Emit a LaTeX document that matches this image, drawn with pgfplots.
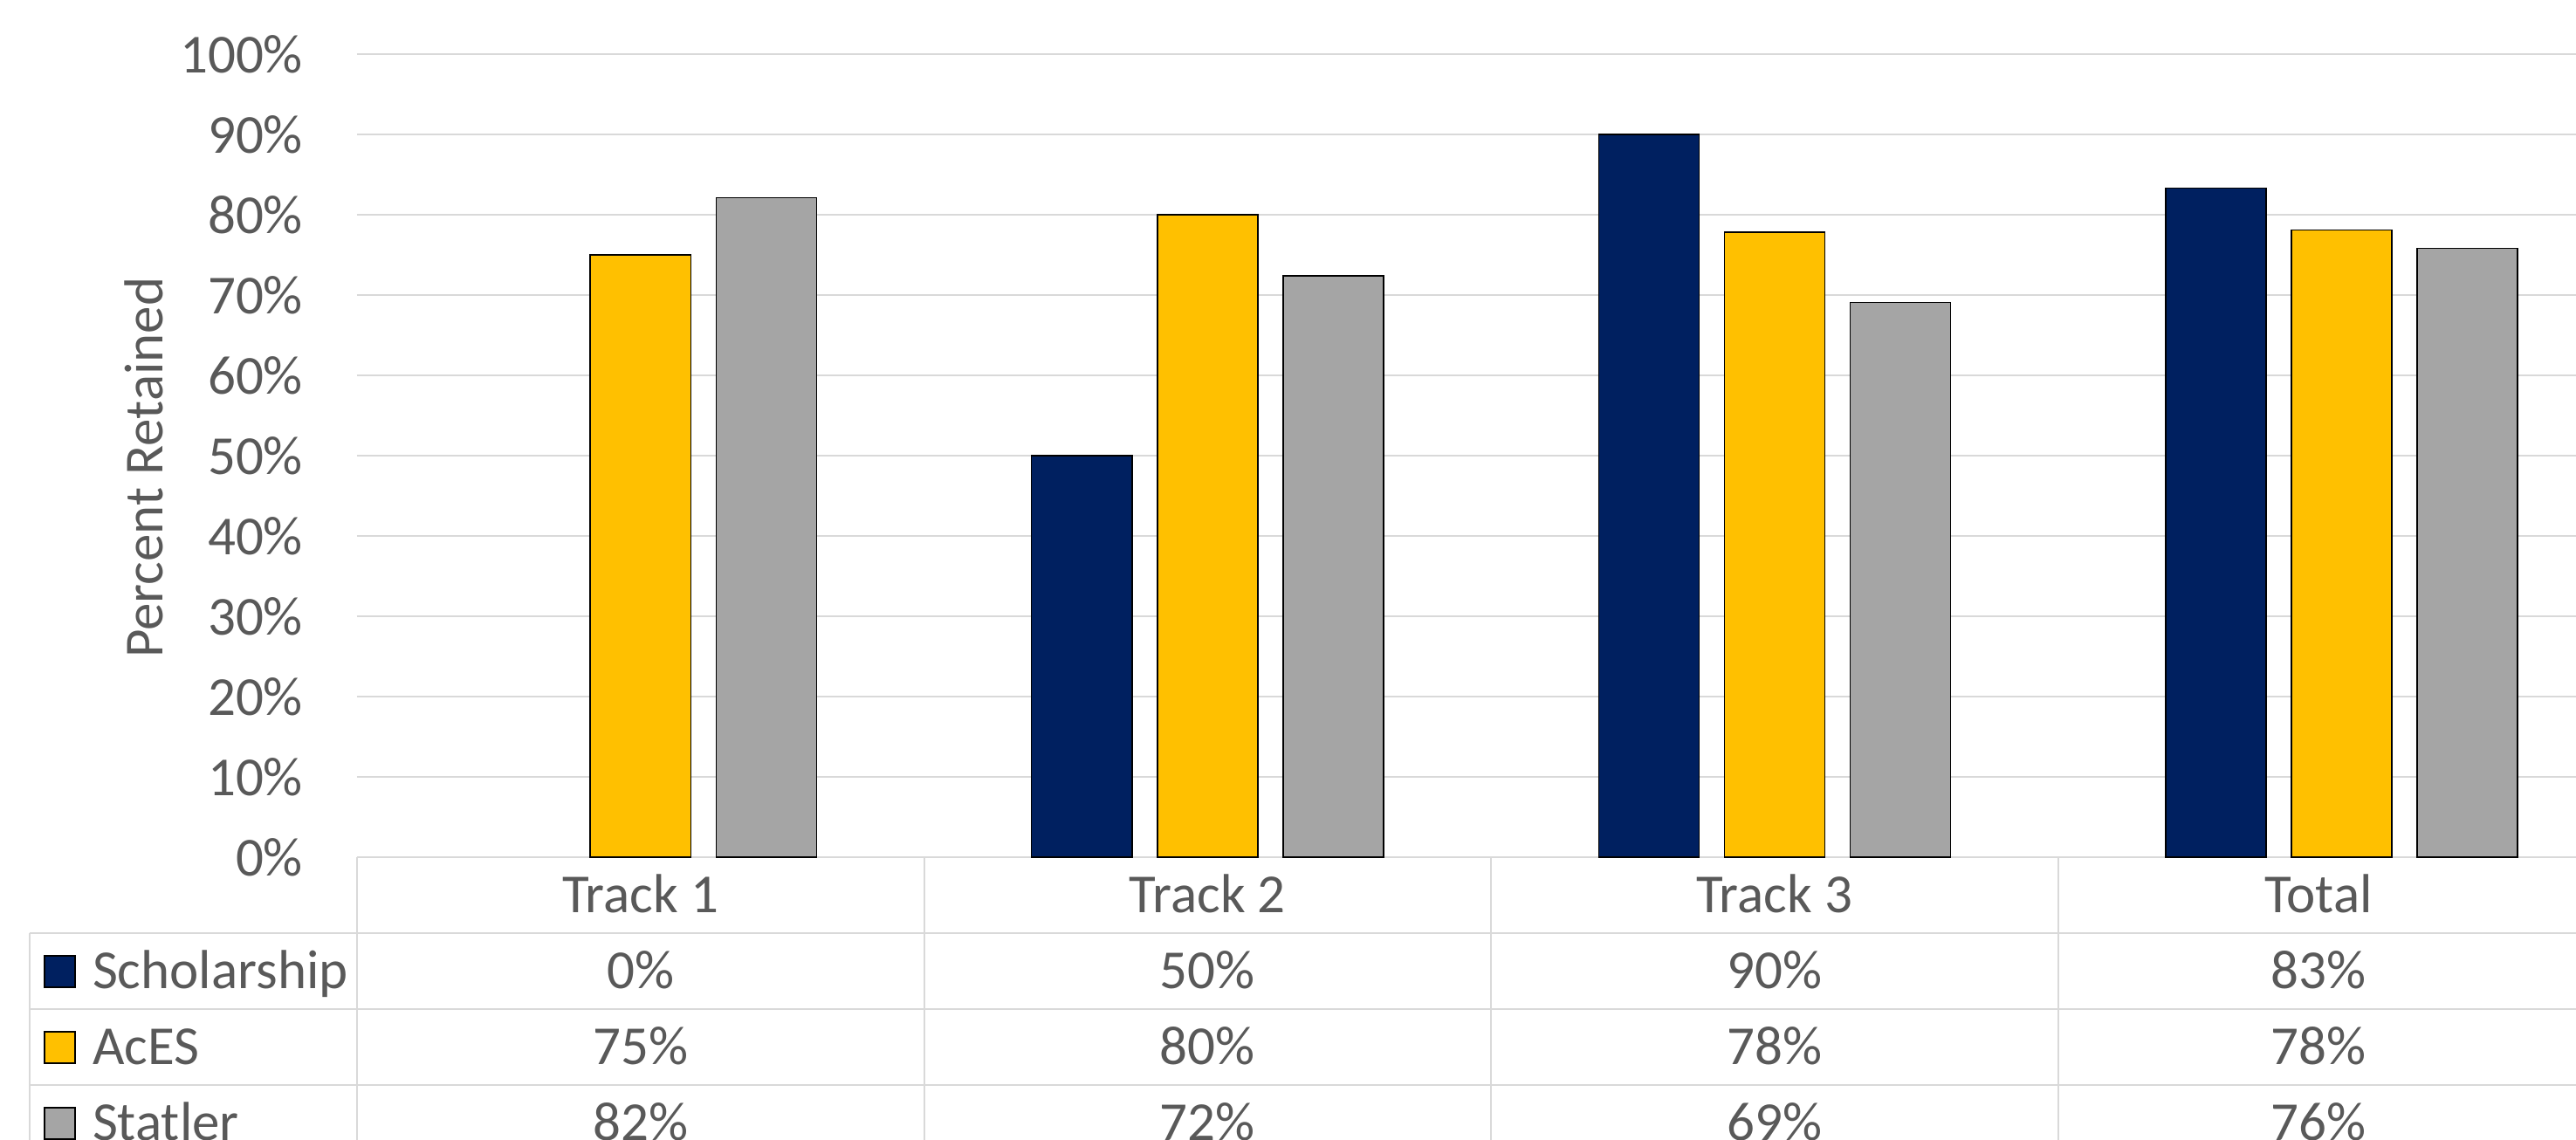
\documentclass[border=0pt]{standalone}
\usepackage{fontspec}
\setmainfont{Carlito}
\usepackage{pgfplots}
\pgfplotsset{compat=1.18}
\definecolor{navy}{HTML}{002060}
\definecolor{gold}{HTML}{FFC000}
\definecolor{sgray}{HTML}{A5A5A5}
\definecolor{tg}{HTML}{595959}
\definecolor{gridgray}{HTML}{D9D9D9}
\tikzset{cell/.style={anchor=base, yshift=-4pt, text=tg, inner sep=0pt}}
\begin{document}
\fontsize{12.6pt}{15pt}\selectfont
\begin{tikzpicture}
\useasboundingbox (0,0) rectangle (590.2pt,261.2pt);
\clip (0,0) rectangle (590.2pt,261.2pt);
\begin{axis}[
  at={(81.8pt,64.8pt)}, anchor=south west,
  scale only axis, width=519.6pt, height=184pt,
  xmin=-0.5, xmax=3.5, ymin=0, ymax=100,
  ybar=5.8pt, bar width=23pt,
  xtick=\empty,
  ytick={0,10,...,100},
  yticklabels={0\%,10\%,20\%,30\%,40\%,50\%,60\%,70\%,80\%,90\%,100\%},
  axis line style={draw=none}, major tick length=0pt,
  ymajorgrids, grid style={color=gridgray, line width=0.35pt},
  yticklabel style={text=tg, inner sep=0pt, anchor=east, xshift=-12.2pt},
  clip=false,
  every axis y label/.style={at={(axis description cs:-0.0939,0.485)}, rotate=90, anchor=center, text=tg},
  ylabel={Percent Retained},
  restrict y to domain=0.001:200,
]
\addplot[fill=navy, draw=black, line width=0.3pt] coordinates {(0,0) (1,50) (2,90) (3,83.3)};
\addplot[fill=gold, draw=black, line width=0.3pt] coordinates {(0,75) (1,80) (2,77.8) (3,78.1)};
\addplot[fill=sgray, draw=black, line width=0.3pt] coordinates {(0,82.1) (1,72.4) (2,69.1) (3,75.8)};

% table grid
\draw[gridgray, line width=0.4pt]
  (axis cs:-1.078,-9.46) -- (axis cs:3.5,-9.46)
  (axis cs:-1.078,-18.92) -- (axis cs:3.5,-18.92)
  (axis cs:-1.078,-28.38) -- (axis cs:3.5,-28.38)
  (axis cs:-1.078,-9.46) -- (axis cs:-1.078,-37.84)
  (axis cs:-0.5,0) -- (axis cs:-0.5,-37.84)
  (axis cs:0.5,0) -- (axis cs:0.5,-37.84)
  (axis cs:1.5,0) -- (axis cs:1.5,-37.84)
  (axis cs:2.5,0) -- (axis cs:2.5,-37.84);

% header
\node[cell] at (axis cs:0,-4.73) {Track 1};
\node[cell] at (axis cs:1,-4.73) {Track 2};
\node[cell] at (axis cs:2,-4.73) {Track 3};
\node[cell] at (axis cs:2.96,-4.73) {Total};

% legend column
\draw[fill=navy, draw=black, line width=0.4pt] ([yshift=-3.6pt]axis cs:-1.051,-14.19) rectangle ([xshift=7pt,yshift=3.6pt]axis cs:-1.051,-14.19);
\draw[fill=gold, draw=black, line width=0.4pt] ([yshift=-3.6pt]axis cs:-1.051,-23.65) rectangle ([xshift=7pt,yshift=3.6pt]axis cs:-1.051,-23.65);
\draw[fill=sgray, draw=black, line width=0.4pt] ([yshift=-3.6pt]axis cs:-1.051,-33.11) rectangle ([xshift=7pt,yshift=3.6pt]axis cs:-1.051,-33.11);
\node[cell, anchor=base west] at (axis cs:-0.968,-14.19) {Scholarship};
\node[cell, anchor=base west] at (axis cs:-0.968,-23.65) {AcES};
\node[cell, anchor=base west] at (axis cs:-0.968,-33.11) {Statler};

% values
\node[cell] at (axis cs:0,-14.19) {0\%};
\node[cell] at (axis cs:1,-14.19) {50\%};
\node[cell] at (axis cs:2,-14.19) {90\%};
\node[cell] at (axis cs:2.96,-14.19) {83\%};
\node[cell] at (axis cs:0,-23.65) {75\%};
\node[cell] at (axis cs:1,-23.65) {80\%};
\node[cell] at (axis cs:2,-23.65) {78\%};
\node[cell] at (axis cs:2.96,-23.65) {78\%};
\node[cell] at (axis cs:0,-33.11) {82\%};
\node[cell] at (axis cs:1,-33.11) {72\%};
\node[cell] at (axis cs:2,-33.11) {69\%};
\node[cell] at (axis cs:2.96,-33.11) {76\%};
\end{axis}
\end{tikzpicture}
\end{document}
